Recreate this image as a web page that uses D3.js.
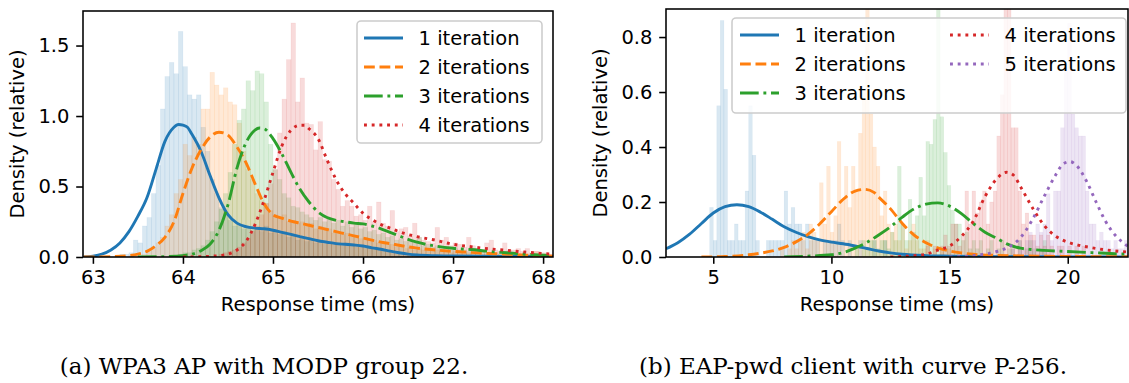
<!DOCTYPE html>
<html><head><meta charset="utf-8">
<script src="https://cdn.jsdelivr.net/npm/d3@7"></script>
<style>body{margin:0;background:#fff}svg{display:block}</style>
</head><body>
<svg id="c" width="1129" height="383"></svg>
<script>
// ---------------- DATA ----------------
const seriesLabelsA = ["1 iteration", "2 iterations", "3 iterations", "4 iterations"];
const seriesLabelsB = ["1 iteration", "2 iterations", "3 iterations", "4 iterations", "5 iterations"];
const captionA = "(a) WPA3 AP with MODP group 22.";
const captionB = "(b) EAP-pwd client with curve P-256.";
const xTicksA = [63, 64, 65, 66, 67, 68];
const yTicksA = [0, 0.5, 1.0, 1.5];
const xTicksB = [5, 10, 15, 20];
const yTicksB = [0, 0.2, 0.4, 0.6, 0.8];
const xDomainA = [62.89, 68.11], yDomainA = [0, 1.745];
const xDomainB = [3.0, 22.55], yDomainB = [0, 0.902];

// histograms, panel (a): bin width and start of each series
const binWidthA = 0.05;
const histStartA = [63.30, 63.40, 63.85, 64.40];
const histA1 = [0.02,0.02,0.03,0.12,0.10,0.22,0.28,0.45,0.65,1.05,1.28,1.38,1.30,1.60,1.35,1.15,1.12,1.15,0.92,0.75,0.55,0.45,0.35,0.30,0.26,0.22,0.24,0.20,0.22,0.19,0.21,0.18,0.22,0.17,0.19,0.16,0.18,0.14,0.15,0.12,0.14,0.11,0.12,0.10,0.11,0.09,0.10,0.09,0.10,0.08,0.10,0.08,0.09,0.07,0.08,0.06,0.07,0.05,0.05,0.04,0.03,0.03,0.02,0.02,0.01,0.02,0.01,0.01,0.01,0.005,0.01,0.005,0.005,0.01,0.005,0.005,0.005,0.01,0.005,0.005];
const histA2 = [0.01,0.0,0.01,0.02,0.04,0.06,0.10,0.14,0.22,0.30,0.45,0.55,0.80,0.72,0.85,0.80,1.05,1.05,1.31,1.22,1.15,1.20,1.10,1.08,0.95,0.75,0.62,0.55,0.45,0.40,0.38,0.33,0.30,0.28,0.30,0.25,0.26,0.24,0.25,0.22,0.24,0.20,0.22,0.19,0.20,0.17,0.18,0.16,0.17,0.14,0.15,0.13,0.14,0.12,0.12,0.10,0.10,0.09,0.09,0.07,0.08,0.06,0.07,0.05,0.06,0.05,0.05,0.04,0.05,0.04,0.04,0.03,0.04,0.03,0.03,0.03,0.02,0.03,0.02,0.02,0.02,0.01,0.02,0.01,0.02,0.01,0.01,0.01,0.02,0.01,0.04,0.01,0.02,0.01];
const histA3 = [0.01,0.01,0.02,0.03,0.03,0.05,0.06,0.08,0.12,0.18,0.25,0.34,0.45,0.60,0.80,0.97,1.05,1.25,1.18,1.32,1.30,1.10,0.80,0.62,0.55,0.45,0.42,0.36,0.35,0.32,0.30,0.28,0.26,0.28,0.25,0.27,0.24,0.26,0.22,0.25,0.21,0.23,0.20,0.21,0.18,0.19,0.16,0.17,0.14,0.15,0.12,0.13,0.11,0.12,0.10,0.14,0.08,0.09,0.07,0.08,0.06,0.07,0.05,0.06,0.05,0.05,0.04,0.05,0.03,0.04,0.03,0.03,0.03,0.02,0.03,0.02,0.02,0.02,0.01,0.02,0.01,0.02,0.01,0.01,0.01];
const histA4 = [0.02,0.03,0.04,0.05,0.07,0.10,0.13,0.18,0.22,0.30,0.38,0.52,0.62,0.88,1.12,1.40,1.66,1.10,1.27,0.95,0.94,0.76,0.96,0.69,0.68,0.55,0.48,0.36,0.40,0.36,0.29,0.30,0.26,0.36,0.25,0.39,0.24,0.22,0.33,0.18,0.20,0.21,0.15,0.24,0.14,0.12,0.11,0.10,0.21,0.12,0.14,0.08,0.10,0.09,0.07,0.14,0.08,0.06,0.05,0.10,0.12,0.05,0.04,0.10,0.05,0.05,0.06,0.04,0.06,0.03,0.04,0.03,0.03,0.02];

// kernel density curves, panel (a)
const kdeA1x = [62.9,63.0,63.1,63.2,63.3,63.4,63.5,63.6,63.7,63.8,63.9,63.95,64.0,64.05,64.1,64.2,64.3,64.4,64.5,64.6,64.7,64.8,64.9,65.0,65.1,65.2,65.3,65.4,65.5,65.6,65.7,65.8,65.9,66.0,66.1,66.2,66.3,66.4,66.5,66.6,66.8,67.0,67.5,68.11];
const kdeA1y = [0.0,0.006,0.02,0.05,0.10,0.18,0.29,0.42,0.62,0.82,0.92,0.94,0.935,0.92,0.87,0.75,0.58,0.42,0.30,0.24,0.215,0.205,0.20,0.19,0.175,0.16,0.145,0.13,0.115,0.105,0.095,0.09,0.085,0.078,0.065,0.055,0.042,0.03,0.02,0.014,0.009,0.007,0.004,0.002];
const kdeA2x = [62.9,63.2,63.4,63.5,63.6,63.7,63.8,63.9,64.0,64.1,64.2,64.3,64.4,64.45,64.5,64.6,64.7,64.8,64.9,65.0,65.1,65.2,65.3,65.4,65.5,65.6,65.7,65.8,65.9,66.0,66.1,66.2,66.3,66.4,66.5,66.6,66.8,67.0,67.2,67.4,67.6,67.8,68.0,68.11];
const kdeA2y = [0.0,0.003,0.01,0.02,0.04,0.08,0.14,0.25,0.45,0.63,0.76,0.85,0.885,0.88,0.865,0.78,0.67,0.52,0.38,0.30,0.275,0.255,0.24,0.225,0.21,0.195,0.18,0.165,0.15,0.135,0.12,0.105,0.095,0.083,0.072,0.063,0.05,0.04,0.033,0.025,0.02,0.013,0.008,0.006];
const kdeA3x = [63.5,63.8,64.0,64.1,64.2,64.3,64.4,64.5,64.6,64.7,64.8,64.85,64.9,65.0,65.1,65.2,65.3,65.4,65.5,65.6,65.7,65.8,65.9,66.0,66.1,66.2,66.3,66.4,66.5,66.6,66.8,67.0,67.2,67.4,67.6,67.8,68.0,68.11];
const kdeA3y = [0.0,0.003,0.01,0.02,0.045,0.09,0.19,0.37,0.63,0.81,0.90,0.915,0.91,0.84,0.73,0.60,0.48,0.39,0.32,0.28,0.26,0.25,0.24,0.235,0.22,0.20,0.175,0.15,0.125,0.105,0.078,0.062,0.053,0.04,0.03,0.02,0.013,0.01];
const kdeA4x = [64.0,64.3,64.4,64.5,64.6,64.7,64.8,64.9,65.0,65.1,65.2,65.3,65.35,65.4,65.5,65.6,65.7,65.8,65.9,66.0,66.1,66.2,66.3,66.4,66.5,66.6,66.8,67.0,67.2,67.4,67.6,67.8,68.0,68.11];
const kdeA4y = [0.0,0.005,0.01,0.02,0.05,0.11,0.23,0.40,0.60,0.79,0.90,0.935,0.935,0.91,0.84,0.69,0.55,0.45,0.38,0.31,0.265,0.23,0.205,0.18,0.16,0.144,0.12,0.09,0.073,0.058,0.047,0.035,0.025,0.02];

// histograms, panel (b)
const binWidthB = 0.15;
const histStartB = [4.85, 7.85, 11.0, 14.0, 17.6];
const histB1 = [0.18,0.06,0.55,0.86,0.61,0.06,0.06,0.12,0.06,0.06,0.24,0.55,0.37,0.06,0,0,0.06,0.06,0.06,0.06,0.06,0.24,0.12,0.18,0.12,0.12,0.06,0.12,0.06,0.06,0.06,0,0.06,0.06,0.06,0.06,0.12,0.06,0,0.06,0,0,0.06,0,0,0,0.06,0,0,0.06];
const histB2 = [0.03,0,0.03,0.06,0.03,0.06,0.09,0.03,0.12,0.09,0.06,0.27,0.12,0.33,0.09,0.15,0.42,0.21,0.33,0.18,0.33,0.24,0.45,0.61,0.95,0.52,0.40,0.33,0.15,0.24,0.12,0.09,0.12,0.06,0.12,0.03,0.06,0.12,0.06,0.03,0.03,0.06,0,0.03,0,0.03,0,0.03];
const histB3 = [0.03,0,0.06,0.03,0.06,0.06,0.03,0.06,0.06,0.03,0.09,0.06,0.33,0.12,0.06,0.21,0.09,0.15,0.29,0.15,0.42,0.41,0.50,0.95,0.51,0.38,0.26,0.17,0.12,0.12,0.06,0.09,0.03,0.06,0.03,0.06,0,0.03,0.06,0,0.03,0.06,0,0.03,0.03,0,0.06,0,0.03,0.06,0.03,0,0.03,0.06];
const histB4 = [0.04,0,0.04,0,0.04,0.08,0.04,0.12,0.12,0.04,0.08,0.24,0.12,0.24,0.16,0.20,0.24,0.12,0.20,0.24,0.44,0.59,0.95,0.95,0.47,0.47,0.24,0.12,0.16,0.08,0.08,0.04,0.08,0.04,0.08,0.04,0,0.04,0.04,0,0.04,0,0.04,0,0.04];
const histB5 = [0.03,0,0.06,0.03,0.06,0.09,0.06,0.12,0.09,0.12,0.23,0.06,0.24,0.24,0.47,0.68,0.85,0.52,0.47,0.44,0.44,0.24,0.12,0.12,0.06,0.09,0.06,0.06,0.03,0.06,0.03,0.03,0.06];

// kernel density curves, panel (b)
const kdeB1x = [3.0,3.5,4.0,4.5,5.0,5.5,6.0,6.5,7.0,7.5,8.0,8.5,9.0,9.5,10.0,10.5,11.0,11.5,12.0,12.5,13.0,14.0,15.0,17.0,22.6];
const kdeB1y = [0.03,0.052,0.083,0.122,0.16,0.183,0.19,0.183,0.163,0.137,0.11,0.09,0.074,0.062,0.054,0.048,0.04,0.031,0.022,0.015,0.01,0.005,0.003,0.001,0.0];
const kdeB2x = [4.5,5.5,6.5,7.0,7.5,8.0,8.5,9.0,9.5,10.0,10.5,11.0,11.4,11.8,12.0,12.5,13.0,13.5,14.0,14.5,15.0,15.5,16.0,17.0,18.0,20.0,22.6];
const kdeB2y = [0.0,0.002,0.008,0.014,0.022,0.035,0.055,0.082,0.12,0.165,0.21,0.24,0.246,0.235,0.218,0.175,0.122,0.08,0.052,0.033,0.022,0.015,0.01,0.006,0.004,0.002,0.001];
const kdeB3x = [8.0,9.0,10.0,10.5,11.0,11.5,12.0,12.5,13.0,13.5,14.0,14.5,15.0,15.5,16.0,16.5,17.0,17.5,18.0,18.5,19.0,20.0,21.0,22.0,22.6];
const kdeB3y = [0.0,0.003,0.008,0.016,0.032,0.053,0.08,0.11,0.145,0.175,0.192,0.197,0.185,0.158,0.122,0.09,0.068,0.045,0.032,0.027,0.024,0.02,0.016,0.012,0.01];
const kdeB4x = [12.5,13.5,14.0,14.5,15.0,15.5,16.0,16.5,17.0,17.4,17.7,18.0,18.5,19.0,19.5,20.0,20.5,21.0,21.5,22.0,22.6];
const kdeB4y = [0.0,0.005,0.01,0.025,0.04,0.075,0.13,0.22,0.285,0.308,0.298,0.256,0.18,0.115,0.075,0.054,0.042,0.034,0.027,0.022,0.018];
const kdeB5x = [15.0,16.0,17.0,17.5,18.0,18.5,19.0,19.5,19.8,20.1,20.4,20.8,21.2,21.6,22.0,22.3,22.6];
const kdeB5y = [0.0,0.005,0.02,0.036,0.07,0.135,0.22,0.30,0.338,0.347,0.33,0.275,0.20,0.13,0.08,0.055,0.035];

// ---------------- STYLE / LAYOUT ----------------
const colors = ["#1f77b4", "#ff7f0e", "#2ca02c", "#d62728", "#9467bd"];
const LW = 2.9;
const dashes = [null, [10.8, 4.7], [18.7, 4.7, 2.9, 4.7], [2.9, 4.8], [2.9, 4.8]];
const FONT = "DejaVu Sans, sans-serif";
const FS = 19.5;
const TICK = 6.8, PAD = 6.8;

const svg = d3.select("#c");
svg.append("rect").attr("width", 1129).attr("height", 383).attr("fill", "#fff");

function panel(opts) {
  const {box, xDom, yDom, xTicks, yTicks, yFmt, hists, starts, bw, kdes, labels, legend, clipId, ylabelX} = opts;
  const x = d3.scaleLinear().domain(xDom).range([box.l, box.r]);
  const y = d3.scaleLinear().domain(yDom).range([box.b, box.t]);
  svg.append("clipPath").attr("id", clipId).append("rect")
    .attr("x", box.l).attr("y", box.t).attr("width", box.r - box.l).attr("height", box.b - box.t);
  const plot = svg.append("g").attr("clip-path", `url(#${clipId})`);
  // histograms
  hists.forEach((h, s) => {
    plot.append("g").selectAll("rect").data(h).join("rect")
      .attr("x", (d, i) => x(starts[s] + i * bw))
      .attr("width", (d, i) => x(starts[s] + (i + 1) * bw) - x(starts[s] + i * bw))
      .attr("y", d => y(d))
      .attr("height", d => y(0) - y(d))
      .attr("fill", colors[s]).attr("fill-opacity", 0.17)
      .attr("stroke", colors[s]).attr("stroke-opacity", 0.08).attr("stroke-width", 0.6);
  });
  // kde lines
  const line = d3.line().x(d => x(d[0])).y(d => y(d[1])).curve(d3.curveMonotoneX);
  kdes.forEach((k, s) => {
    const pts = k[0].map((v, i) => [v, k[1][i]]);
    plot.append("path").attr("d", line(pts)).attr("fill", "none")
      .attr("stroke", colors[s]).attr("stroke-width", LW)
      .attr("stroke-dasharray", dashes[s] ? dashes[s].join(",") : null);
  });
  // axes
  const ax = svg.append("g").attr("transform", `translate(0,${box.b})`)
    .call(d3.axisBottom(x).tickValues(xTicks).tickSize(TICK).tickPadding(PAD).tickFormat(d3.format("d")));
  const ay = svg.append("g").attr("transform", `translate(${box.l},0)`)
    .call(d3.axisLeft(y).tickValues(yTicks).tickSize(TICK).tickPadding(PAD).tickFormat(d3.format(yFmt)));
  [ax, ay].forEach(a => {
    a.select(".domain").remove();
    a.selectAll("line").attr("stroke", "#000").attr("stroke-width", 1.56);
    a.selectAll("text").attr("font-family", FONT).attr("font-size", FS).attr("fill", "#000");
  });
  svg.append("rect").attr("x", box.l).attr("y", box.t).attr("width", box.r - box.l).attr("height", box.b - box.t)
    .attr("fill", "none").attr("stroke", "#000").attr("stroke-width", 1.56);
  // axis labels
  svg.append("text").attr("x", (box.l + box.r) / 2).attr("y", 311).attr("text-anchor", "middle")
    .attr("font-family", FONT).attr("font-size", FS).text("Response time (ms)");
  svg.append("text").attr("transform", `translate(${ylabelX},${(box.t + box.b) / 2}) rotate(-90)`)
    .attr("text-anchor", "middle").attr("font-family", FONT).attr("font-size", FS).text("Density (relative)");
  // legend
  const lg = svg.append("g");
  lg.append("rect").attr("x", legend.x).attr("y", legend.y).attr("width", legend.w).attr("height", legend.h)
    .attr("rx", 4).attr("fill", "#fff").attr("fill-opacity", 0.8).attr("stroke", "#cccccc").attr("stroke-width", 1.56);
  labels.forEach((lab, i) => {
    const col = Math.floor(i / legend.rows), row = i % legend.rows;
    const hx = legend.hx[col], cy = legend.y0 + row * legend.dy;
    lg.append("line").attr("x1", hx).attr("x2", hx + 39).attr("y1", cy).attr("y2", cy)
      .attr("stroke", colors[i]).attr("stroke-width", LW)
      .attr("stroke-dasharray", dashes[i] ? dashes[i].join(",") : null);
    lg.append("text").attr("x", hx + 39 + 15.6).attr("y", cy).attr("dy", "0.36em")
      .attr("font-family", FONT).attr("font-size", FS).text(lab);
  });
}

panel({
  box: {l: 83, r: 553, t: 11, b: 257}, xDom: xDomainA, yDom: yDomainA,
  xTicks: xTicksA, yTicks: yTicksA, yFmt: ".1f",
  hists: [histA1, histA2, histA3, histA4], starts: histStartA, bw: binWidthA,
  kdes: [[kdeA1x, kdeA1y], [kdeA2x, kdeA2y], [kdeA3x, kdeA3y], [kdeA4x, kdeA4y]],
  labels: seriesLabelsA, clipId: "clipA", ylabelX: 24,
  legend: {x: 357, y: 21, w: 185, h: 122, rows: 4, hx: [364], y0: 38, dy: 29}
});
panel({
  box: {l: 666, r: 1128, t: 9, b: 257}, xDom: xDomainB, yDom: yDomainB,
  xTicks: xTicksB, yTicks: yTicksB, yFmt: ".1f",
  hists: [histB1, histB2, histB3, histB4, histB5], starts: histStartB, bw: binWidthB,
  kdes: [[kdeB1x, kdeB1y], [kdeB2x, kdeB2y], [kdeB3x, kdeB3y], [kdeB4x, kdeB4y], [kdeB5x, kdeB5y]],
  labels: seriesLabelsB, clipId: "clipB", ylabelX: 607,
  legend: {x: 732, y: 18, w: 394, h: 95, rows: 3, hx: [740, 950], y0: 35, dy: 29}
});

// captions
const cA = svg.append("text").attr("x", 264).attr("y", 374).attr("text-anchor", "middle")
  .attr("font-family", "DejaVu Serif, serif").attr("font-size", 20).text(captionA);
const cB = svg.append("text").attr("x", 853).attr("y", 374).attr("text-anchor", "middle")
  .attr("font-family", "DejaVu Serif, serif").attr("font-size", 20).text(captionB);
const wA = cA.node().getComputedTextLength(), wB = cB.node().getComputedTextLength();
const fsCap = 20 * ((404 / wA) + (433 / wB)) / 2;
cA.attr("font-size", fsCap); cB.attr("font-size", fsCap);
</script>
</body></html>
